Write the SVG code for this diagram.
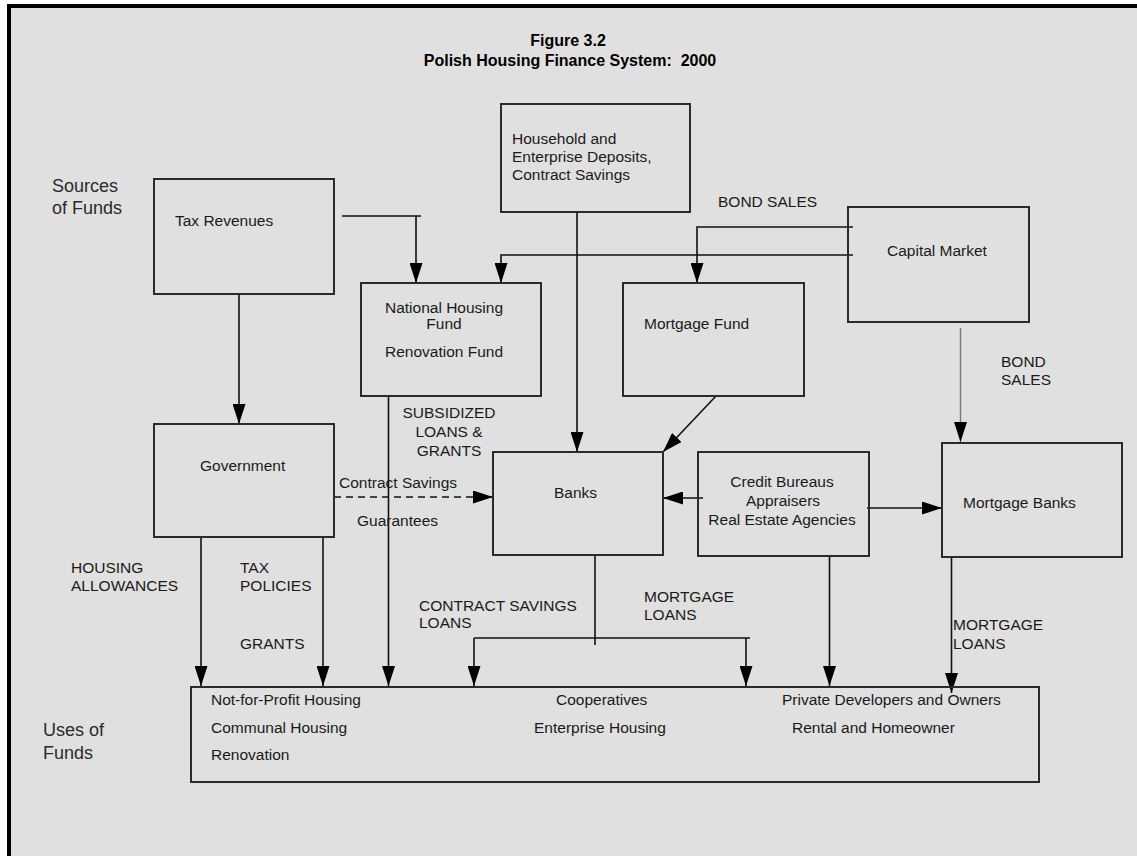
<svg xmlns="http://www.w3.org/2000/svg" width="1137" height="856" viewBox="0 0 1137 856">
<defs>
<marker id="ah" markerUnits="userSpaceOnUse" viewBox="0 0 20 13" refX="20" refY="6.5" markerWidth="20" markerHeight="13" orient="auto"><path d="M0,0 L20,6.5 L0,13 z" fill="#000"/></marker>
</defs>
<style>
.box{fill:none;stroke:#2b2b2b;stroke-width:2}
.t{font-family:"Liberation Sans",Arial,sans-serif;font-size:15.5px;fill:#1a1a1a}
.big{font-size:18px;fill:#2a2a2a}
.ttl{font-family:"Liberation Sans",Arial,sans-serif;font-size:16px;font-weight:bold;fill:#000;text-anchor:middle;white-space:pre}
.c{fill:none;stroke:#111;stroke-width:1.6}
.a{marker-end:url(#ah)}
.m{text-anchor:middle}
</style>
<rect x="0" y="0" width="1137" height="856" fill="#fff"/>
<rect x="7" y="4" width="1140" height="860" fill="#000"/>
<rect x="11" y="8" width="1130" height="850" fill="#e0e0e0"/>

<g id="title">
<text class="ttl" x="568" y="46">Figure 3.2</text>
<text class="ttl" x="570" y="66" xml:space="preserve">Polish Housing Finance System:  2000</text>
</g>
<g id="sources-label"><text class="t big" x="52" y="192">Sources</text><text class="t big" x="52" y="214">of Funds</text></g>
<g id="uses-label"><text class="t big" x="43" y="736">Uses of</text><text class="t big" x="43" y="759">Funds</text></g>

<g id="connectors">
<path class="c" d="M342,216 H421"/>
<path class="c a" d="M416,216 V283"/>
<path class="c a" d="M239,293 V424"/>
<path class="c a" d="M853,227 H697 V283"/>
<path class="c a" d="M853,255 H501 V283"/>
<path class="c a" d="M577,212 V452"/>
<path class="a" d="M960.5,328 V442" fill="none" stroke="#777" stroke-width="1.4"/>
<path class="c a" d="M716,396 L663,452" stroke-width="1.1"/>
<path class="c a" d="M334,497 H493" stroke-dasharray="7,5"/>
<path class="c a" d="M703,498 H663"/>
<path class="c a" d="M867,508 H942" stroke-width="1.1"/>
<path class="c a" d="M201,537 V686"/>
<path class="c a" d="M323,537 V686"/>
<path class="c a" d="M388.5,396 V686"/>
<path class="c" d="M595,555 V645"/>
<path class="c" d="M474,638 H750"/>
<path class="c a" d="M474,638 V686"/>
<path class="c a" d="M746,638 V686"/>
<path class="c a" d="M829.5,556 V686"/>
<path class="c a" d="M951.5,556 V693"/>
</g>

<g id="connector-labels">
<text class="t" x="718" y="207">BOND SALES</text>
<text class="t" x="1001" y="367">BOND</text><text class="t" x="1001" y="385">SALES</text>
<text class="t m" x="449" y="418">SUBSIDIZED</text><text class="t m" x="449" y="437">LOANS &amp;</text><text class="t m" x="449" y="456">GRANTS</text>
<text class="t" x="339" y="488">Contract Savings</text>
<text class="t" x="357" y="526">Guarantees</text>
<text class="t" x="71" y="573">HOUSING</text><text class="t" x="71" y="591">ALLOWANCES</text>
<text class="t" x="240" y="573">TAX</text><text class="t" x="240" y="591">POLICIES</text>
<text class="t" x="240" y="649">GRANTS</text>
<text class="t" x="419" y="611">CONTRACT SAVINGS</text><text class="t" x="419" y="628">LOANS</text>
<text class="t" x="644" y="602">MORTGAGE</text><text class="t" x="644" y="620">LOANS</text>
<text class="t" x="953" y="630">MORTGAGE</text><text class="t" x="953" y="649">LOANS</text>
</g>

<g id="tax-revenues"><rect class="box" x="154" y="179" width="180" height="115"/><text class="t" x="175" y="226">Tax Revenues</text></g>
<g id="household"><rect class="box" x="501" y="104" width="189" height="108"/><text class="t" x="512" y="144">Household and</text><text class="t" x="512" y="162">Enterprise Deposits,</text><text class="t" x="512" y="180">Contract Savings</text></g>
<g id="capital-market"><rect class="box" x="848" y="207" width="181" height="115"/><text class="t" x="887" y="256">Capital Market</text></g>
<g id="national-housing-fund"><rect class="box" x="361" y="283" width="180" height="113"/><text class="t m" x="444" y="313">National Housing</text><text class="t m" x="444" y="329">Fund</text><text class="t m" x="444" y="357">Renovation Fund</text></g>
<g id="mortgage-fund"><rect class="box" x="623" y="283" width="181" height="113"/><text class="t" x="644" y="329">Mortgage Fund</text></g>
<g id="government"><rect class="box" x="154" y="424" width="180" height="113"/><text class="t" x="200" y="471">Government</text></g>
<g id="banks"><rect class="box" x="493" y="452" width="170" height="103"/><text class="t" x="554" y="498">Banks</text></g>
<g id="credit-bureaus"><rect class="box" x="698" y="452" width="171" height="104"/><text class="t m" x="782" y="487">Credit Bureaus</text><text class="t m" x="783" y="506">Appraisers</text><text class="t m" x="782" y="525">Real Estate Agencies</text></g>
<g id="mortgage-banks"><rect class="box" x="942" y="443" width="180" height="114"/><text class="t" x="963" y="508">Mortgage Banks</text></g>
<g id="uses-of-funds"><rect class="box" x="191" y="687" width="848" height="95"/>
<text class="t" x="211" y="705">Not-for-Profit Housing</text><text class="t" x="211" y="733">Communal Housing</text><text class="t" x="211" y="760">Renovation</text>
<text class="t" x="556" y="705">Cooperatives</text><text class="t" x="534" y="733">Enterprise Housing</text>
<text class="t" x="782" y="705">Private Developers and Owners</text><text class="t" x="792" y="733">Rental and Homeowner</text>
</g>
</svg>
